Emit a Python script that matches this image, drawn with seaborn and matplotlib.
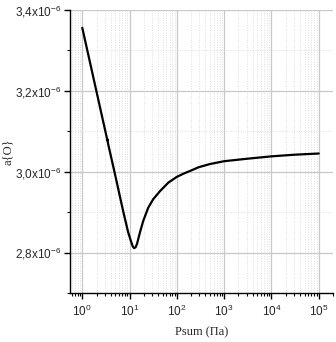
import matplotlib
matplotlib.use("Agg")
import matplotlib.pyplot as plt
import seaborn as sns
import pandas as pd
import numpy as np
from matplotlib.ticker import FuncFormatter, MultipleLocator, LogLocator, LogFormatterMathtext

psum = [1, 2, 3.3, 3.4, 3.42, 3.5, 5, 7.3, 9.3, 10.9, 11.7, 12.5, 13.4, 14.4, 16.5, 19.4, 24.8,
        31.6, 44, 66, 99, 137, 200, 287, 500, 1000, 3000, 10000, 30000, 100000]
a_O = [3.356, 3.198, 3.084, 3.077, 3.080, 3.070, 2.990, 2.903, 2.851, 2.825, 2.815, 2.811,
       2.813, 2.822, 2.849, 2.878, 2.911, 2.932, 2.952, 2.973, 2.987, 2.995, 3.003, 3.011,
       3.019, 3.026, 3.032, 3.038, 3.042, 3.045]
a_O = [v * 1e-6 for v in a_O]

sns.set_style("white")
plt.rcParams['font.family'] = ['Liberation Sans', 'DejaVu Sans']
plt.rcParams['mathtext.fontset'] = 'custom'
plt.rcParams['mathtext.rm'] = 'Liberation Sans'
plt.rcParams['mathtext.it'] = 'Liberation Sans:italic'

df = pd.DataFrame({"Psum": psum, "a": a_O})

fig = plt.figure(figsize=(3.36, 3.42), dpi=100)
ax = fig.add_axes([70/336, 1-293/342, 263/336, 283/342])
sns.lineplot(data=df, x="Psum", y="a", ax=ax, color="black", linewidth=1.6, sort=False)
ax.set_xscale("log")
ax.set_xlim(0.55, 2.0e5)
ax.set_ylim(2.7e-6, 3.4e-6)

ax.yaxis.set_major_locator(MultipleLocator(0.2e-6))
ax.yaxis.set_minor_locator(MultipleLocator(0.1e-6))
ax.yaxis.set_major_formatter(FuncFormatter(
    lambda v, p: (f"{v*1e6:.1f}".replace('.', ',') + r"x10$^{-6}$")))
ax.xaxis.set_major_locator(LogLocator(base=10, numticks=10))
ax.xaxis.set_minor_locator(LogLocator(base=10, subs=np.arange(2, 10), numticks=20))
ax.xaxis.set_major_formatter(LogFormatterMathtext())

ax.grid(True, which="major", color="#c8c8c8", linewidth=0.9, linestyle="-")
ax.grid(True, which="minor", color="#dedede", linewidth=0.7, linestyle=(0, (1, 1.5)))
ax.set_axisbelow(True)

for s in ["top", "right"]:
    ax.spines[s].set_visible(False)
for s in ["left", "bottom"]:
    ax.spines[s].set_color("black")
    ax.spines[s].set_linewidth(1.0)

ax.tick_params(which="major", direction="out", length=4, width=1, color="black",
               labelsize=8.5, left=True, bottom=True, pad=2)
ax.tick_params(axis="x", which="major", pad=4)
ax.tick_params(which="minor", direction="out", length=2, width=0.8, color="black",
               left=True, bottom=True)

ax.set_xlabel("Psum (Па)", family=["Liberation Serif", "DejaVu Serif"], fontsize=9, labelpad=5)
ax.set_ylabel("a{O}", family=["Liberation Serif", "DejaVu Serif"], fontsize=9, labelpad=1)

fig.savefig("out.png", dpi=100)
